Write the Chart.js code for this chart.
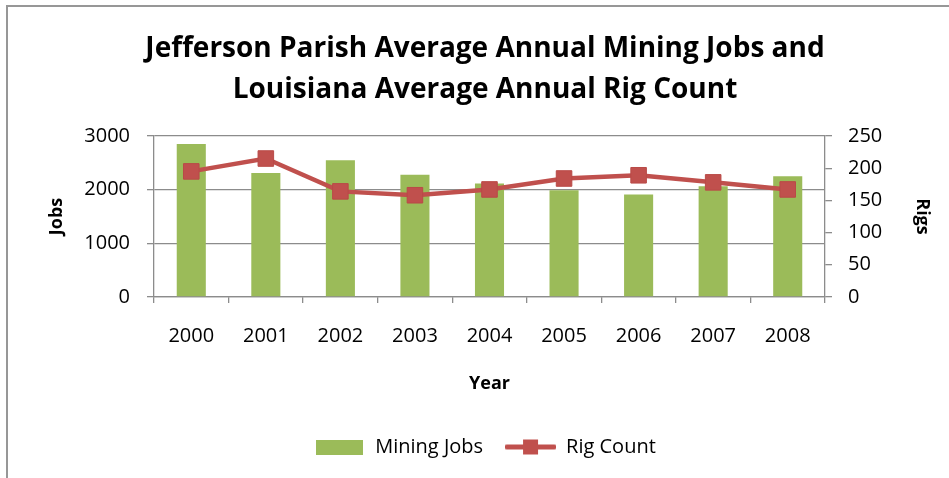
<!DOCTYPE html>
<html>
<head>
<meta charset="utf-8">
<script src="https://cdn.jsdelivr.net/npm/chart.js@4/dist/chart.umd.min.js"></script>
<style>
  html, body { margin: 0; padding: 0; background: #ffffff; }
  #wrap { position: relative; width: 949px; height: 478px; }
</style>
</head>
<body>
<div id="wrap"><canvas id="c" width="949" height="478"></canvas></div>
<script>
const years = ['2000', '2001', '2002', '2003', '2004', '2005', '2006', '2007', '2008'];
const miningJobs = [2850, 2310, 2550, 2280, 2115, 1990, 1910, 2065, 2250];
const rigCount = [195, 215, 164, 158, 167, 184, 189, 178, 167];
const titleLines = ['Jefferson Parish Average Annual Mining Jobs and', 'Louisiana Average Annual Rig Count'];
const jobsTicks = [0, 1000, 2000, 3000];
const rigsTicks = [0, 50, 100, 150, 200, 250];

const GREEN = '#9BBB59';
const RED = '#C0504D';
const GRID = '#8c8c8c';
const FONT = "'Open Sans', 'Liberation Sans', sans-serif";

function makeBoxImg() {
  const c = document.createElement('canvas');
  c.width = 47; c.height = 15;
  const g = c.getContext('2d');
  g.fillStyle = GREEN; g.fillRect(0, 0, 47, 15);
  return c;
}
function makeLineImg() {
  const c = document.createElement('canvas');
  c.width = 51; c.height = 17;
  const g = c.getContext('2d');
  g.strokeStyle = RED; g.lineWidth = 5; g.lineCap = 'round';
  g.beginPath(); g.moveTo(2, 8.5); g.lineTo(49, 8.5); g.stroke();
  g.fillStyle = RED; g.fillRect(18, 1, 15, 15);
  return c;
}
const legendImgs = [makeBoxImg(), makeLineImg()];

const framePlugin = {
  id: 'frame',
  beforeDraw(chart) {
    const ctx = chart.ctx;
    ctx.save();
    ctx.fillStyle = '#ffffff';
    ctx.fillRect(0, 0, chart.width, chart.height);
    ctx.strokeStyle = '#979797';
    ctx.lineWidth = 2;
    ctx.beginPath();
    ctx.moveTo(7, chart.height);
    ctx.lineTo(7, 6);
    ctx.lineTo(chart.width, 6);
    ctx.stroke();
    ctx.restore();
  }
};

new Chart(document.getElementById('c'), {
  type: 'bar',
  data: {
    labels: years,
    datasets: [
      {
        type: 'bar',
        label: 'Mining Jobs',
        data: miningJobs,
        backgroundColor: GREEN,
        borderWidth: 0,
        yAxisID: 'y',
        categoryPercentage: 1.0,
        barPercentage: 0.39,
        order: 2
      },
      {
        type: 'line',
        label: 'Rig Count',
        data: rigCount,
        borderColor: RED,
        backgroundColor: RED,
        borderWidth: 4.5,
        pointStyle: 'rect',
        pointRadius: 11,
        pointHoverRadius: 11,
        pointBorderWidth: 1,
        pointBorderColor: '#b94a47',
        pointBackgroundColor: RED,
        tension: 0,
        yAxisID: 'y1',
        order: 1
      }
    ]
  },
  options: {
    responsive: false,
    animation: false,
    events: [],
    layout: { padding: { left: 31, right: 10, top: 0, bottom: 11 } },
    plugins: {
      title: {
        display: true,
        text: titleLines,
        color: '#000000',
        font: { family: FONT, size: 28, weight: 'bold', lineHeight: 1.464 },
        padding: { top: 28.5, bottom: 25.5 }
      },
      legend: {
        display: true,
        position: 'bottom',
        labels: {
          color: '#000000',
          font: { family: FONT, size: 20 },
          usePointStyle: true,
          pointStyleWidth: 51,
          boxHeight: 20,
          padding: 22,
          generateLabels(chart) {
            const items = Chart.defaults.plugins.legend.labels.generateLabels(chart);
            items.sort((a, b) => a.datasetIndex - b.datasetIndex);
            items.forEach((it) => { it.pointStyle = legendImgs[it.datasetIndex]; });
            return items;
          }
        }
      },
      tooltip: { enabled: false }
    },
    scales: {
      x: {
        offset: true,
        afterFit(s) { s.height = 118; },
        grid: {
          display: true,
          offset: true,
          drawOnChartArea: false,
          drawTicks: true,
          tickLength: 6,
          color: GRID,
          lineWidth: 1.3
        },
        border: { display: true, color: GRID, width: 1.3 },
        ticks: {
          color: '#000000',
          font: { family: FONT, size: 20 },
          padding: 21
        },
        title: {
          display: true,
          text: 'Year',
          color: '#000000',
          font: { family: FONT, size: 18, weight: 'bold' },
          padding: { top: 0, bottom: 20 }
        }
      },
      y: {
        position: 'left',
        min: 0,
        max: 3000,
        afterFit(s) { s.width = 123; },
        afterBuildTicks(s) { s.ticks = jobsTicks.map(v => ({ value: v })); },
        grid: {
          color: GRID,
          lineWidth: 1.3,
          drawTicks: true,
          tickLength: 7
        },
        border: { display: true, color: GRID, width: 1.3 },
        ticks: {
          color: '#000000',
          font: { family: FONT, size: 20 },
          padding: 17,
          callback: (v) => String(v)
        },
        title: {
          display: true,
          text: 'Jobs',
          color: '#000000',
          font: { family: FONT, size: 18, weight: 'bold' },
          padding: { top: 15, bottom: 0 }
        }
      },
      y1: {
        position: 'right',
        min: 0,
        max: 250,
        afterFit(s) { s.width = 114; },
        afterBuildTicks(s) { s.ticks = rigsTicks.map(v => ({ value: v })); },
        grid: {
          drawOnChartArea: false,
          color: GRID,
          lineWidth: 1.3,
          drawTicks: true,
          tickLength: 7
        },
        border: { display: true, color: GRID, width: 1.3 },
        ticks: {
          color: '#000000',
          font: { family: FONT, size: 20 },
          padding: 16,
          callback: (v) => String(v)
        },
        title: {
          display: true,
          text: 'Rigs',
          color: '#000000',
          font: { family: FONT, size: 18, weight: 'bold' },
          padding: { top: 6, bottom: 0 }
        }
      }
    }
  },
  plugins: [framePlugin]
});
</script>
</body>
</html>
